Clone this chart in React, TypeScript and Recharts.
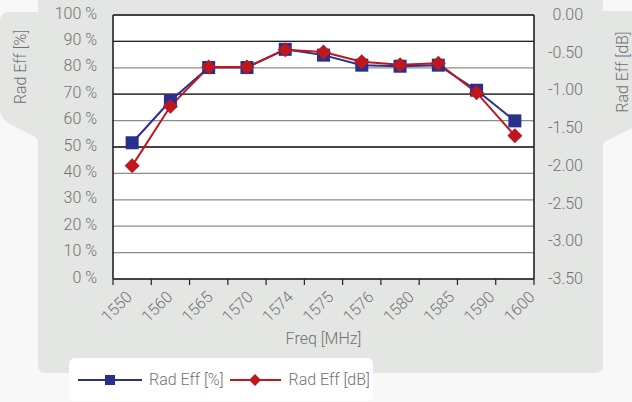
import React from 'react';
import { LineChart, Line, XAxis, YAxis, CartesianGrid, ReferenceLine, Legend, Label } from 'recharts';

// values
const freqs = ['1550', '1560', '1565', '1570', '1574', '1575', '1576', '1580', '1585', '1590', '1600'];
const radEffPct = [51.6, 67.5, 80.1, 80.1, 87.0, 84.8, 81.0, 80.6, 81.0, 71.5, 59.9];
const radEffDb = [-2.0, -1.21, -0.69, -0.69, -0.46, -0.49, -0.62, -0.66, -0.64, -1.03, -1.6];
const pctTicks = [0, 10, 20, 30, 40, 50, 60, 70, 80, 90, 100];
const dbTicks = [0, -0.5, -1, -1.5, -2, -2.5, -3, -3.5];
const darkGridLines = [100, 90, 70, 50];

const data = freqs.map((f, i) => ({ freq: f, pct: radEffPct[i], db: radEffDb[i] }));

const BLUE = '#27318c';
const RED = '#c0161e';
const TEXT = '#727272';
const FONT = 'Roboto, "Open Sans", sans-serif';

const SquareDot = (props: any) => {
  const { cx, cy } = props;
  if (cx == null || cy == null) return null;
  return <rect x={cx - 6.5} y={cy - 6.5} width={13} height={13} fill={BLUE} />;
};

const DiamondDot = (props: any) => {
  const { cx, cy } = props;
  if (cx == null || cy == null) return null;
  const r = 7.5;
  return <polygon points={`${cx},${cy - r} ${cx + r},${cy} ${cx},${cy + r} ${cx - r},${cy}`} fill={RED} />;
};

// category label + tick marks on the band edges (excel style)
const FreqTick = (props: any) => {
  const { x, y, payload, width, visibleTicksCount } = props;
  const band = width / visibleTicksCount;
  const shift = 1 + 2 * payload.index; // excel spreads the labels a bit wider than the bands
  const lx = x + shift;
  const ly = y + 19;
  const isLast = payload.index === visibleTicksCount - 1;
  return (
    <g>
      <line x1={x - band / 2} y1={y} x2={x - band / 2} y2={y + 6} stroke="#222" strokeWidth={1.2} />
      {isLast && <line x1={x + band / 2} y1={y} x2={x + band / 2} y2={y + 6} stroke="#222" strokeWidth={1.2} />}
      <text
        x={lx}
        y={ly}
        transform={`rotate(-45 ${lx} ${ly})`}
        textAnchor="end"
        fill={TEXT}
        fontSize={16}
        fontWeight={300}
        fontFamily={FONT}
      >
        {payload.value}
      </text>
    </g>
  );
};

const DbTick = (props: any) => {
  const { x, y, payload } = props;
  return (
    <text x={x + 49} y={y} dy={5} textAnchor="end" fill={TEXT} fontSize={16} fontWeight={300} fontFamily={FONT}>
      {Number(payload.value).toFixed(2)}
    </text>
  );
};

const renderLegend = (props: any) => {
  const { payload } = props;
  return (
    <div
      style={{
        width: '100%',
        height: '100%',
        background: '#fff',
        borderRadius: 6,
        display: 'flex',
        alignItems: 'center',
        boxSizing: 'border-box',
        paddingLeft: 9,
        whiteSpace: 'nowrap',
      }}
    >
      {payload.map((entry: any, i: number) => (
        <div key={i} style={{ display: 'flex', alignItems: 'center', marginRight: 6, flexShrink: 0 }}>
          <svg width={i === 0 ? 66 : 54} height={16} style={{ marginRight: 5, flexShrink: 0 }}>
            <line x1={0} y1={8} x2={i === 0 ? 64 : 51} y2={8} stroke={entry.color} strokeWidth={2} />
            {i === 0 ? (
              <rect x={27} y={3} width={10} height={10} fill={entry.color} />
            ) : (
              <polygon points="25,2 31,8 25,14 19,8" fill={entry.color} />
            )}
          </svg>
          <span style={{ color: TEXT, fontSize: 16, fontWeight: 300, fontFamily: FONT }}>{entry.value}</span>
        </div>
      ))}
    </div>
  );
};

export default function App() {
  return (
    <div
      style={{
        position: 'absolute',
        left: 0,
        top: 0,
        width: 632,
        height: 402,
        background: '#f7f8f7',
        overflow: 'hidden',
        fontFamily: FONT,
      }}
    >
      <svg width={632} height={402} style={{ position: 'absolute', left: 0, top: 0 }}>
        <path
          d="M38 0 L603 0 L603 11 L632 11 L632 128 L606 141 Q603 143 603 147 L603 365 Q603 373 595 373 L46 373 Q38 373 38 365 L38 143 Q38 139 35 137 L12 125 Q0 119 0 110 L0 22 Q0 12 10 12 L38 12 Z"
          fill="#e3e6e3"
        />
      </svg>
      <div style={{ position: 'absolute', left: 0, top: 0 }}>
        <LineChart width={632} height={402} data={data} margin={{ top: 15, right: 0, bottom: 0, left: 0 }}>
          <CartesianGrid yAxisId="pct" xAxisId="cat" vertical={false} stroke="#8c8c8c" strokeWidth={1.3} fill="#fff" />
          <XAxis
            xAxisId="cat"
            dataKey="freq"
            scale="band"
            height={123}
            interval={0}
            tickLine={false}
            tickSize={0}
            tickMargin={0}
            axisLine={{ stroke: '#222', strokeWidth: 1.6 }}
            tick={<FreqTick />}
          >
            <Label value="Freq [MHz]" position="insideBottom" offset={58} fill={TEXT} fontSize={16} fontWeight={300} />
          </XAxis>
          <YAxis
            yAxisId="pct"
            domain={[0, 100]}
            ticks={pctTicks}
            width={113}
            tickFormatter={(v: number) => `${v} %`}
            tickLine={false}
            tickSize={4}
            tickMargin={12}
            axisLine={{ stroke: '#222', strokeWidth: 1.6 }}
            tick={{ fill: TEXT, fontSize: 16, fontWeight: 300, dy: -2 }}
          >
            <Label
              content={() => (
                <text x={20} y={67} transform="rotate(-90 20 67)" textAnchor="middle" dominantBaseline="central" fill={TEXT} fontSize={16} fontWeight={300} fontFamily={FONT}>
                  Rad Eff [%]
                </text>
              )}
            />
          </YAxis>
          <YAxis
            yAxisId="db"
            orientation="right"
            domain={[-3.5, 0]}
            ticks={dbTicks}
            width={98}
            tickLine={false}
            tickSize={0}
            tickMargin={0}
            axisLine={{ stroke: '#222', strokeWidth: 1.6 }}
            tick={<DbTick />}
          >
            <Label
              content={() => (
                <text x={622} y={72} transform="rotate(-90 622 72)" textAnchor="middle" dominantBaseline="central" fill={TEXT} fontSize={16} fontWeight={300} fontFamily={FONT}>
                  Rad Eff [dB]
                </text>
              )}
            />
          </YAxis>
          {darkGridLines.map((v) => (
            <ReferenceLine key={v} yAxisId="pct" xAxisId="cat" y={v} stroke="#222" strokeWidth={1.3} />
          ))}
          <Line
            xAxisId="cat"
            yAxisId="pct"
            dataKey="pct"
            name="Rad Eff [%]"
            stroke={BLUE}
            strokeWidth={2}
            dot={<SquareDot />}
            activeDot={false}
            isAnimationActive={false}
          />
          <Line
            xAxisId="cat"
            yAxisId="db"
            dataKey="db"
            name="Rad Eff [dB]"
            stroke={RED}
            strokeWidth={2}
            dot={<DiamondDot />}
            activeDot={false}
            isAnimationActive={false}
          />
          <Legend
            verticalAlign="middle"
            align="center"
            layout="horizontal"
            content={renderLegend}
            wrapperStyle={{ left: 69, top: 358, width: 304, height: 43 }}
          />
        </LineChart>
      </div>
    </div>
  );
}
